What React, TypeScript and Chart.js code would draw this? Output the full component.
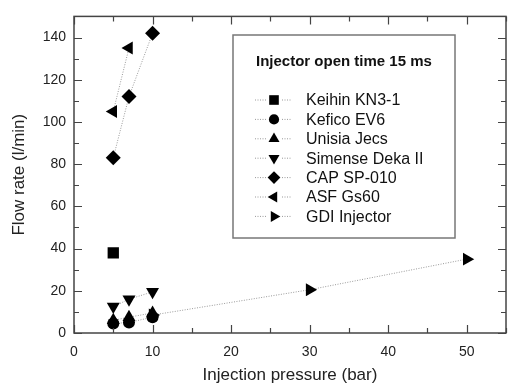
import React, { useEffect, useRef } from "react";
import { Chart, registerables } from "chart.js";

Chart.register(...registerables);

const seriesLabels = [
  "Keihin KN3-1",
  "Kefico EV6",
  "Unisia Jecs",
  "Simense Deka II",
  "CAP SP-010",
  "ASF Gs60",
  "GDI Injector",
];
const keihinX = [5];
const keihinY = [38];
const keficoX = [5, 7, 10];
const keficoY = [4.5, 5, 7.5];
const unisiaX = [5, 7, 10];
const unisiaY = [6, 7.5, 9.5];
const simenseX = [5, 7, 10];
const simenseY = [12.5, 16, 19.5];
const capX = [5, 7, 10];
const capY = [83, 112, 142];
const asfX = [5, 7];
const asfY = [105, 135];
const gdiX = [10, 30, 50];
const gdiY = [8.5, 20.5, 35];
const legendTitle = "Injector open time 15 ms";
const xTitle = "Injection pressure (bar)";
const yTitle = "Flow rate (l/min)";

const FONT = "Arial, 'Liberation Sans', Helvetica, sans-serif";

type Style = { pointStyle: string; rotation: number; radius: number };
const styles: Style[] = [
  { pointStyle: "rect", rotation: 0, radius: 8 },
  { pointStyle: "circle", rotation: 0, radius: 6 },
  { pointStyle: "triangle", rotation: 0, radius: 7.5 },
  { pointStyle: "triangle", rotation: 180, radius: 7.5 },
  { pointStyle: "rectRot", rotation: 0, radius: 7.5 },
  { pointStyle: "triangle", rotation: -90, radius: 7.5 },
  { pointStyle: "triangle", rotation: 90, radius: 7.5 },
];

const pts = (xs: number[], ys: number[]) => xs.map((x, i) => ({ x, y: ys[i] }));

function drawMarker(ctx: CanvasRenderingContext2D, st: Style, x: number, y: number, k: number) {
  const r = st.radius * k;
  ctx.beginPath();
  if (st.pointStyle === "rect") {
    const s = Math.SQRT1_2 * r;
    ctx.rect(x - s, y - s, 2 * s, 2 * s);
  } else if (st.pointStyle === "circle") {
    ctx.arc(x, y, r, 0, Math.PI * 2);
  } else if (st.pointStyle === "rectRot") {
    ctx.moveTo(x - r, y);
    ctx.lineTo(x, y - r);
    ctx.lineTo(x + r, y);
    ctx.lineTo(x, y + r);
  } else {
    let rad = (st.rotation * Math.PI) / 180;
    for (let j = 0; j < 3; j++) {
      const px = x + Math.sin(rad) * r;
      const py = y - Math.cos(rad) * r;
      if (j === 0) ctx.moveTo(px, py);
      else ctx.lineTo(px, py);
      rad += (2 * Math.PI) / 3;
    }
  }
  ctx.closePath();
  ctx.fill();
}

const frameAndLegend = {
  id: "frameAndLegend",
  afterDraw(chart: any) {
    const ctx = chart.ctx as CanvasRenderingContext2D;
    const { left, right, top, bottom } = chart.chartArea;
    const xs = chart.scales.x;
    const ys = chart.scales.y;
    ctx.save();
    ctx.strokeStyle = "#444";
    ctx.lineWidth = 1.5;
    ctx.strokeRect(left, top, right - left, bottom - top);
    ctx.lineWidth = 1.2;
    ctx.beginPath();
    for (let v = 0; v <= 55; v += 5) {
      const p = Math.round(xs.getPixelForValue(v)) + 0.5;
      const len = v % 10 === 0 ? 8 : 5;
      ctx.moveTo(p, bottom);
      ctx.lineTo(p, bottom - len);
      ctx.moveTo(p, top);
      ctx.lineTo(p, top + len);
    }
    for (let v = 0; v <= 150; v += 10) {
      const p = Math.round(ys.getPixelForValue(v)) + 0.5;
      const len = v % 20 === 0 ? 8 : 5;
      ctx.moveTo(left, p);
      ctx.lineTo(left + len, p);
      ctx.moveTo(right, p);
      ctx.lineTo(right - len, p);
    }
    ctx.stroke();

    // legend box
    const bx = 233, by = 35, bw = 222, bh = 203;
    ctx.fillStyle = "#fff";
    ctx.fillRect(bx, by, bw, bh);
    ctx.strokeStyle = "#777";
    ctx.lineWidth = 1.5;
    ctx.strokeRect(bx, by, bw, bh);
    ctx.fillStyle = "#111";
    ctx.font = `bold 15px ${FONT}`;
    ctx.textBaseline = "middle";
    ctx.textAlign = "left";
    ctx.fillText(legendTitle, 256, 62);
    ctx.font = `16px ${FONT}`;
    chart.data.datasets.forEach((ds: any, i: number) => {
      const y = 100 + i * 19.4;
      ctx.save();
      ctx.strokeStyle = "#999";
      ctx.lineWidth = 1;
      ctx.setLineDash([1, 1.5]);
      ctx.beginPath();
      ctx.moveTo(255, y);
      ctx.lineTo(266, y);
      ctx.moveTo(282, y);
      ctx.lineTo(292, y);
      ctx.stroke();
      ctx.restore();
      ctx.fillStyle = "#000";
      drawMarker(ctx, styles[i], 274, y, 0.85);
      ctx.fillStyle = "#111";
      ctx.fillText(ds.label, 306, y + 1);
    });
    ctx.restore();
  },
};

export default function App() {
  const ref = useRef<HTMLCanvasElement | null>(null);
  useEffect(() => {
    document.body.style.margin = "0";
    const series = [
      pts(keihinX, keihinY),
      pts(keficoX, keficoY),
      pts(unisiaX, unisiaY),
      pts(simenseX, simenseY),
      pts(capX, capY),
      pts(asfX, asfY),
      pts(gdiX, gdiY),
    ];
    const chart = new Chart(ref.current as HTMLCanvasElement, {
      type: "line",
      data: {
        datasets: series.map((d, i) => ({
          label: seriesLabels[i],
          data: d,
          borderColor: "#999",
          borderWidth: 1,
          borderDash: [1, 1.5],
          backgroundColor: "#000",
          pointBackgroundColor: "#000",
          pointBorderColor: "#000",
          pointBorderWidth: 0,
          pointStyle: styles[i].pointStyle as any,
          rotation: styles[i].rotation,
          pointRadius: styles[i].radius,
          tension: 0,
          fill: false,
        })),
      },
      options: {
        animation: false,
        responsive: false,
        maintainAspectRatio: false,
        layout: { padding: { top: 10, right: 3, left: 9, bottom: 0 } },
        plugins: { legend: { display: false }, tooltip: { enabled: false } },
        scales: {
          x: {
            type: "linear",
            min: 0,
            max: 55,
            grid: { display: false, drawTicks: false },
            border: { display: false },
            afterFit: (s: any) => {
              s.height = 53;
            },
            ticks: {
              stepSize: 10,
              padding: 11,
              color: "#222",
              font: { family: FONT, size: 14 },
              callback: (v: any) => (Number(v) % 10 === 0 ? String(v) : ""),
            },
            title: {
              display: true,
              text: xTitle,
              color: "#222",
              font: { family: FONT, size: 17 },
              padding: { top: 2, bottom: 0 },
            },
          },
          y: {
            type: "linear",
            min: 0,
            max: 150,
            grid: { display: false, drawTicks: false },
            border: { display: false },
            afterFit: (s: any) => {
              s.width = 65;
            },
            ticks: {
              stepSize: 20,
              padding: 8,
              color: "#222",
              font: { family: FONT, size: 14 },
              callback: (v: any) => (Number(v) % 20 === 0 ? String(v) : ""),
            },
            title: {
              display: true,
              text: yTitle,
              color: "#222",
              font: { family: FONT, size: 17 },
              padding: { top: 0, bottom: 4 },
            },
          },
        },
      },
      plugins: [frameAndLegend],
    } as any);
    return () => chart.destroy();
  }, []);
  return (
    <div style={{ position: "absolute", left: 0, top: 0, width: 517, height: 386 }}>
      <canvas ref={ref} width={517} height={386} style={{ width: 517, height: 386 }} />
    </div>
  );
}
